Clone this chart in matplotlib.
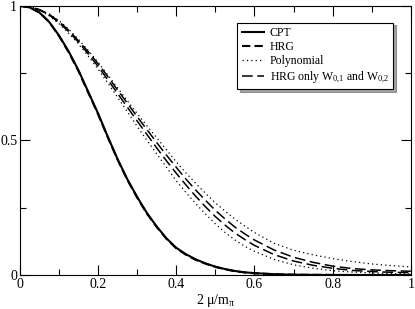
import matplotlib
matplotlib.use('Agg')
import matplotlib.pyplot as plt
from matplotlib.ticker import MultipleLocator

plt.rcParams['font.family'] = 'Liberation Serif'
plt.rcParams['mathtext.fontset'] = 'custom'
plt.rcParams['mathtext.rm'] = 'Liberation Serif'
plt.rcParams['mathtext.it'] = 'Liberation Serif'

# values
x = [0, 0.025, 0.05, 0.075, 0.1, 0.125, 0.15, 0.175, 0.2, 0.225, 0.25, 0.275,
     0.3, 0.325, 0.35, 0.375, 0.4, 0.425, 0.45, 0.475, 0.5, 0.525, 0.55, 0.575,
     0.6, 0.65, 0.7, 0.75, 0.8, 0.85, 0.9, 0.95, 1.0]

cpt = [1, 0.994, 0.975, 0.94, 0.89, 0.83, 0.76, 0.68, 0.60, 0.513, 0.43, 0.355,
       0.29, 0.23, 0.18, 0.136, 0.101, 0.077, 0.058, 0.043, 0.031, 0.022, 0.015, 0.010,
       0.007, 0.003, 0.0012, 0.0005, 0.0002, 0.0001, 0, 0, 0]
hrg = [1, 0.995, 0.976, 0.94, 0.888, 0.827, 0.757, 0.677, 0.597, 0.511, 0.428, 0.353,
       0.287, 0.228, 0.178, 0.134, 0.099, 0.075, 0.056, 0.042, 0.030, 0.021, 0.014, 0.0095,
       0.0065, 0.0028, 0.0011, 0.0005, 0.0002, 0.0001, 0, 0, 0]

poly_up = [1, 0.997, 0.987, 0.97, 0.945, 0.913, 0.875, 0.834, 0.79, 0.743, 0.695, 0.647,
           0.60, 0.554, 0.51, 0.465, 0.42, 0.379, 0.34, 0.303, 0.268, 0.237, 0.208, 0.182,
           0.158, 0.118, 0.092, 0.075, 0.061, 0.05, 0.041, 0.035, 0.030]
poly_lo = [1, 0.996, 0.984, 0.963, 0.934, 0.898, 0.858, 0.813, 0.765, 0.713, 0.66, 0.606,
           0.552, 0.5, 0.45, 0.4, 0.35, 0.306, 0.265, 0.226, 0.19, 0.158, 0.13, 0.107,
           0.088, 0.058, 0.038, 0.025, 0.016, 0.011, 0.008, 0.005, 0.004]
hrgw_up = [1, 0.996, 0.986, 0.968, 0.942, 0.909, 0.87, 0.829, 0.785, 0.737, 0.687, 0.638,
           0.588, 0.54, 0.492, 0.445, 0.40, 0.356, 0.315, 0.277, 0.24, 0.208, 0.178, 0.153,
           0.13, 0.093, 0.066, 0.047, 0.033, 0.024, 0.019, 0.016, 0.014]
hrgw_lo = [1, 0.996, 0.985, 0.966, 0.938, 0.904, 0.865, 0.821, 0.775, 0.725, 0.674, 0.623,
           0.572, 0.522, 0.472, 0.424, 0.378, 0.334, 0.292, 0.253, 0.217, 0.185, 0.156, 0.132,
           0.11, 0.076, 0.052, 0.036, 0.025, 0.017, 0.013, 0.010, 0.009]

fig = plt.figure(figsize=(4.15, 3.09), dpi=100)
ax = fig.add_axes([0.048, 0.110, 0.942, 0.871])

ax.plot(x, cpt, color='black', lw=1.5, label='CPT')
ax.plot(x, hrg, color='black', lw=1.5, ls=(0, (4, 2)), label='HRG')
ax.plot(x, poly_up, color='black', lw=0.9, ls=(0, (1, 2.5)), label='Polynomial')
ax.plot(x, poly_lo, color='black', lw=0.9, ls=(0, (1, 2.5)))
ax.plot(x, hrgw_up, color='black', lw=1.1, ls=(0, (7, 3)),
        label=r'HRG only W$_{0{,}1}$ and W$_{0{,}2}$')
ax.plot(x, hrgw_lo, color='black', lw=1.1, ls=(0, (7, 3)))

ax.set_xlim(0, 1)
ax.set_ylim(0, 1)
ax.xaxis.set_major_locator(MultipleLocator(0.2))
ax.xaxis.set_minor_locator(MultipleLocator(0.1))
ax.yaxis.set_major_locator(MultipleLocator(0.5))
ax.yaxis.set_minor_locator(MultipleLocator(0.25))
ax.xaxis.set_major_formatter(plt.FuncFormatter(lambda v, p: f'{v:g}'))
ax.yaxis.set_major_formatter(plt.FuncFormatter(lambda v, p: f'{v:g}'))
ax.tick_params(which='both', direction='in', top=True, right=True, labelsize=10, pad=2)
ax.tick_params(which='major', length=7, width=0.8)
ax.tick_params(which='minor', length=4, width=0.8)
ax.set_xlabel('2 μ/m$_\\pi$', fontsize=10, labelpad=1)

leg = ax.legend(loc='upper right', bbox_to_anchor=(0.97, 0.96), fontsize=8.5,
                frameon=True, fancybox=False, shadow=True, handlelength=1.9,
                handletextpad=0.5, borderpad=0.35, labelspacing=0.2)
leg.get_frame().set_edgecolor('black')
leg.get_frame().set_linewidth(0.8)

fig.savefig('out.png', dpi=100)
